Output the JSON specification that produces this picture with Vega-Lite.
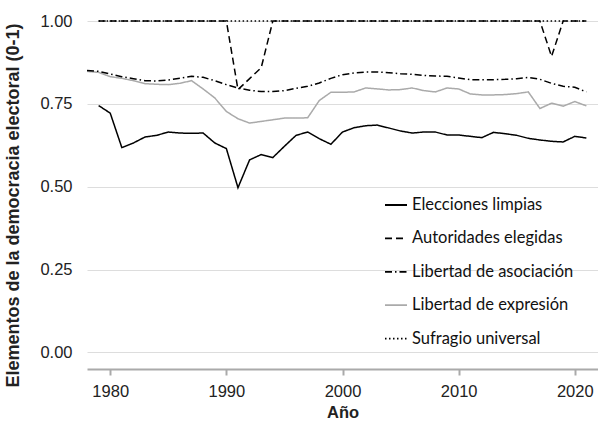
{
  "$schema": "https://vega.github.io/schema/vega-lite/v6.json",
  "width": 511,
  "height": 348,
  "autosize": "none",
  "padding": {"left": 87, "top": 21, "right": 0, "bottom": 58},
  "background": "white",
  "config": {
    "view": {"stroke": null},
    "font": "Liberation Sans"
  },
  "data": {
    "values": [
      {"anio":1979,"serie":"Elecciones limpias","valor":0.745},
      {"anio":1980,"serie":"Elecciones limpias","valor":0.722},
      {"anio":1981,"serie":"Elecciones limpias","valor":0.618},
      {"anio":1982,"serie":"Elecciones limpias","valor":0.632},
      {"anio":1983,"serie":"Elecciones limpias","valor":0.650},
      {"anio":1984,"serie":"Elecciones limpias","valor":0.655},
      {"anio":1985,"serie":"Elecciones limpias","valor":0.665},
      {"anio":1986,"serie":"Elecciones limpias","valor":0.662},
      {"anio":1987,"serie":"Elecciones limpias","valor":0.661},
      {"anio":1988,"serie":"Elecciones limpias","valor":0.662},
      {"anio":1989,"serie":"Elecciones limpias","valor":0.632},
      {"anio":1990,"serie":"Elecciones limpias","valor":0.615},
      {"anio":1991,"serie":"Elecciones limpias","valor":0.497},
      {"anio":1992,"serie":"Elecciones limpias","valor":0.581},
      {"anio":1993,"serie":"Elecciones limpias","valor":0.597},
      {"anio":1994,"serie":"Elecciones limpias","valor":0.588},
      {"anio":1995,"serie":"Elecciones limpias","valor":0.622},
      {"anio":1996,"serie":"Elecciones limpias","valor":0.655},
      {"anio":1997,"serie":"Elecciones limpias","valor":0.665},
      {"anio":1998,"serie":"Elecciones limpias","valor":0.645},
      {"anio":1999,"serie":"Elecciones limpias","valor":0.628},
      {"anio":2000,"serie":"Elecciones limpias","valor":0.665},
      {"anio":2001,"serie":"Elecciones limpias","valor":0.678},
      {"anio":2002,"serie":"Elecciones limpias","valor":0.684},
      {"anio":2003,"serie":"Elecciones limpias","valor":0.686},
      {"anio":2004,"serie":"Elecciones limpias","valor":0.677},
      {"anio":2005,"serie":"Elecciones limpias","valor":0.668},
      {"anio":2006,"serie":"Elecciones limpias","valor":0.662},
      {"anio":2007,"serie":"Elecciones limpias","valor":0.665},
      {"anio":2008,"serie":"Elecciones limpias","valor":0.665},
      {"anio":2009,"serie":"Elecciones limpias","valor":0.656},
      {"anio":2010,"serie":"Elecciones limpias","valor":0.656},
      {"anio":2011,"serie":"Elecciones limpias","valor":0.652},
      {"anio":2012,"serie":"Elecciones limpias","valor":0.648},
      {"anio":2013,"serie":"Elecciones limpias","valor":0.664},
      {"anio":2014,"serie":"Elecciones limpias","valor":0.660},
      {"anio":2015,"serie":"Elecciones limpias","valor":0.655},
      {"anio":2016,"serie":"Elecciones limpias","valor":0.646},
      {"anio":2017,"serie":"Elecciones limpias","valor":0.641},
      {"anio":2018,"serie":"Elecciones limpias","valor":0.637},
      {"anio":2019,"serie":"Elecciones limpias","valor":0.635},
      {"anio":2020,"serie":"Elecciones limpias","valor":0.652},
      {"anio":2021,"serie":"Elecciones limpias","valor":0.647},

      {"anio":1978,"serie":"Libertad de expresión","valor":0.848},
      {"anio":1979,"serie":"Libertad de expresión","valor":0.845},
      {"anio":1980,"serie":"Libertad de expresión","valor":0.832},
      {"anio":1981,"serie":"Libertad de expresión","valor":0.827},
      {"anio":1982,"serie":"Libertad de expresión","valor":0.820},
      {"anio":1983,"serie":"Libertad de expresión","valor":0.811},
      {"anio":1984,"serie":"Libertad de expresión","valor":0.809},
      {"anio":1985,"serie":"Libertad de expresión","valor":0.808},
      {"anio":1986,"serie":"Libertad de expresión","valor":0.812},
      {"anio":1987,"serie":"Libertad de expresión","valor":0.820},
      {"anio":1988,"serie":"Libertad de expresión","valor":0.795},
      {"anio":1989,"serie":"Libertad de expresión","valor":0.768},
      {"anio":1990,"serie":"Libertad de expresión","valor":0.727},
      {"anio":1991,"serie":"Libertad de expresión","valor":0.705},
      {"anio":1992,"serie":"Libertad de expresión","valor":0.692},
      {"anio":1993,"serie":"Libertad de expresión","valor":0.697},
      {"anio":1994,"serie":"Libertad de expresión","valor":0.702},
      {"anio":1995,"serie":"Libertad de expresión","valor":0.707},
      {"anio":1996,"serie":"Libertad de expresión","valor":0.707},
      {"anio":1997,"serie":"Libertad de expresión","valor":0.708},
      {"anio":1998,"serie":"Libertad de expresión","valor":0.760},
      {"anio":1999,"serie":"Libertad de expresión","valor":0.785},
      {"anio":2000,"serie":"Libertad de expresión","valor":0.785},
      {"anio":2001,"serie":"Libertad de expresión","valor":0.786},
      {"anio":2002,"serie":"Libertad de expresión","valor":0.798},
      {"anio":2003,"serie":"Libertad de expresión","valor":0.795},
      {"anio":2004,"serie":"Libertad de expresión","valor":0.792},
      {"anio":2005,"serie":"Libertad de expresión","valor":0.793},
      {"anio":2006,"serie":"Libertad de expresión","valor":0.798},
      {"anio":2007,"serie":"Libertad de expresión","valor":0.790},
      {"anio":2008,"serie":"Libertad de expresión","valor":0.786},
      {"anio":2009,"serie":"Libertad de expresión","valor":0.798},
      {"anio":2010,"serie":"Libertad de expresión","valor":0.795},
      {"anio":2011,"serie":"Libertad de expresión","valor":0.780},
      {"anio":2012,"serie":"Libertad de expresión","valor":0.777},
      {"anio":2013,"serie":"Libertad de expresión","valor":0.777},
      {"anio":2014,"serie":"Libertad de expresión","valor":0.778},
      {"anio":2015,"serie":"Libertad de expresión","valor":0.781},
      {"anio":2016,"serie":"Libertad de expresión","valor":0.786},
      {"anio":2017,"serie":"Libertad de expresión","valor":0.736},
      {"anio":2018,"serie":"Libertad de expresión","valor":0.752},
      {"anio":2019,"serie":"Libertad de expresión","valor":0.743},
      {"anio":2020,"serie":"Libertad de expresión","valor":0.757},
      {"anio":2021,"serie":"Libertad de expresión","valor":0.744},

      {"anio":1978,"serie":"Libertad de asociación","valor":0.851},
      {"anio":1979,"serie":"Libertad de asociación","valor":0.848},
      {"anio":1980,"serie":"Libertad de asociación","valor":0.840},
      {"anio":1981,"serie":"Libertad de asociación","valor":0.832},
      {"anio":1982,"serie":"Libertad de asociación","valor":0.826},
      {"anio":1983,"serie":"Libertad de asociación","valor":0.820},
      {"anio":1984,"serie":"Libertad de asociación","valor":0.819},
      {"anio":1985,"serie":"Libertad de asociación","valor":0.822},
      {"anio":1986,"serie":"Libertad de asociación","valor":0.827},
      {"anio":1987,"serie":"Libertad de asociación","valor":0.833},
      {"anio":1988,"serie":"Libertad de asociación","valor":0.830},
      {"anio":1989,"serie":"Libertad de asociación","valor":0.820},
      {"anio":1990,"serie":"Libertad de asociación","valor":0.808},
      {"anio":1991,"serie":"Libertad de asociación","valor":0.798},
      {"anio":1992,"serie":"Libertad de asociación","valor":0.791},
      {"anio":1993,"serie":"Libertad de asociación","valor":0.787},
      {"anio":1994,"serie":"Libertad de asociación","valor":0.787},
      {"anio":1995,"serie":"Libertad de asociación","valor":0.790},
      {"anio":1996,"serie":"Libertad de asociación","valor":0.797},
      {"anio":1997,"serie":"Libertad de asociación","valor":0.803},
      {"anio":1998,"serie":"Libertad de asociación","valor":0.813},
      {"anio":1999,"serie":"Libertad de asociación","valor":0.827},
      {"anio":2000,"serie":"Libertad de asociación","valor":0.838},
      {"anio":2001,"serie":"Libertad de asociación","valor":0.843},
      {"anio":2002,"serie":"Libertad de asociación","valor":0.846},
      {"anio":2003,"serie":"Libertad de asociación","valor":0.846},
      {"anio":2004,"serie":"Libertad de asociación","valor":0.844},
      {"anio":2005,"serie":"Libertad de asociación","valor":0.841},
      {"anio":2006,"serie":"Libertad de asociación","valor":0.839},
      {"anio":2007,"serie":"Libertad de asociación","valor":0.836},
      {"anio":2008,"serie":"Libertad de asociación","valor":0.834},
      {"anio":2009,"serie":"Libertad de asociación","valor":0.833},
      {"anio":2010,"serie":"Libertad de asociación","valor":0.828},
      {"anio":2011,"serie":"Libertad de asociación","valor":0.823},
      {"anio":2012,"serie":"Libertad de asociación","valor":0.823},
      {"anio":2013,"serie":"Libertad de asociación","valor":0.823},
      {"anio":2014,"serie":"Libertad de asociación","valor":0.824},
      {"anio":2015,"serie":"Libertad de asociación","valor":0.826},
      {"anio":2016,"serie":"Libertad de asociación","valor":0.830},
      {"anio":2017,"serie":"Libertad de asociación","valor":0.824},
      {"anio":2018,"serie":"Libertad de asociación","valor":0.812},
      {"anio":2019,"serie":"Libertad de asociación","valor":0.803},
      {"anio":2020,"serie":"Libertad de asociación","valor":0.800},
      {"anio":2021,"serie":"Libertad de asociación","valor":0.786},

      {"anio":1979,"serie":"Autoridades elegidas","valor":1},
      {"anio":1980,"serie":"Autoridades elegidas","valor":1},
      {"anio":1981,"serie":"Autoridades elegidas","valor":1},
      {"anio":1982,"serie":"Autoridades elegidas","valor":1},
      {"anio":1983,"serie":"Autoridades elegidas","valor":1},
      {"anio":1984,"serie":"Autoridades elegidas","valor":1},
      {"anio":1985,"serie":"Autoridades elegidas","valor":1},
      {"anio":1986,"serie":"Autoridades elegidas","valor":1},
      {"anio":1987,"serie":"Autoridades elegidas","valor":1},
      {"anio":1988,"serie":"Autoridades elegidas","valor":1},
      {"anio":1989,"serie":"Autoridades elegidas","valor":1},
      {"anio":1990,"serie":"Autoridades elegidas","valor":1},
      {"anio":1991,"serie":"Autoridades elegidas","valor":0.793},
      {"anio":1992,"serie":"Autoridades elegidas","valor":0.826},
      {"anio":1993,"serie":"Autoridades elegidas","valor":0.859},
      {"anio":1994,"serie":"Autoridades elegidas","valor":1},
      {"anio":1995,"serie":"Autoridades elegidas","valor":1},
      {"anio":1996,"serie":"Autoridades elegidas","valor":1},
      {"anio":1997,"serie":"Autoridades elegidas","valor":1},
      {"anio":1998,"serie":"Autoridades elegidas","valor":1},
      {"anio":1999,"serie":"Autoridades elegidas","valor":1},
      {"anio":2000,"serie":"Autoridades elegidas","valor":1},
      {"anio":2001,"serie":"Autoridades elegidas","valor":1},
      {"anio":2002,"serie":"Autoridades elegidas","valor":1},
      {"anio":2003,"serie":"Autoridades elegidas","valor":1},
      {"anio":2004,"serie":"Autoridades elegidas","valor":1},
      {"anio":2005,"serie":"Autoridades elegidas","valor":1},
      {"anio":2006,"serie":"Autoridades elegidas","valor":1},
      {"anio":2007,"serie":"Autoridades elegidas","valor":1},
      {"anio":2008,"serie":"Autoridades elegidas","valor":1},
      {"anio":2009,"serie":"Autoridades elegidas","valor":1},
      {"anio":2010,"serie":"Autoridades elegidas","valor":1},
      {"anio":2011,"serie":"Autoridades elegidas","valor":1},
      {"anio":2012,"serie":"Autoridades elegidas","valor":1},
      {"anio":2013,"serie":"Autoridades elegidas","valor":1},
      {"anio":2014,"serie":"Autoridades elegidas","valor":1},
      {"anio":2015,"serie":"Autoridades elegidas","valor":1},
      {"anio":2016,"serie":"Autoridades elegidas","valor":1},
      {"anio":2017,"serie":"Autoridades elegidas","valor":1},
      {"anio":2018,"serie":"Autoridades elegidas","valor":0.893},
      {"anio":2019,"serie":"Autoridades elegidas","valor":1},
      {"anio":2020,"serie":"Autoridades elegidas","valor":1},
      {"anio":2021,"serie":"Autoridades elegidas","valor":1},

      {"anio":1979,"serie":"Sufragio universal","valor":1},
      {"anio":1985,"serie":"Sufragio universal","valor":1},
      {"anio":1990,"serie":"Sufragio universal","valor":1},
      {"anio":1995,"serie":"Sufragio universal","valor":1},
      {"anio":2000,"serie":"Sufragio universal","valor":1},
      {"anio":2005,"serie":"Sufragio universal","valor":1},
      {"anio":2010,"serie":"Sufragio universal","valor":1},
      {"anio":2015,"serie":"Sufragio universal","valor":1},
      {"anio":2021,"serie":"Sufragio universal","valor":1}
    ]
  },
  "mark": {"type": "line", "strokeWidth": 1.5},
  "encoding": {
    "x": {
      "field": "anio",
      "type": "quantitative",
      "scale": {"domain": [1978, 2022], "nice": false, "zero": false},
      "axis": {
        "title": "Año",
        "values": [1980, 1990, 2000, 2010, 2020],
        "format": "d",
        "grid": false,
        "domainColor": "#aaaaaa",
        "domainWidth": 2,
        "tickColor": "#aaaaaa",
        "tickWidth": 2,
        "tickSize": 6,
        "labelFont": "Liberation Sans",
        "labelFontSize": 16.5,
        "labelColor": "#222222",
        "labelPadding": 8,
        "titleFont": "Liberation Sans",
        "titleFontSize": 16.5,
        "titleFontWeight": "bold",
        "titleColor": "#222222",
        "titlePadding": 5
      }
    },
    "y": {
      "field": "valor",
      "type": "quantitative",
      "scale": {"domain": [-0.05, 1], "nice": false, "zero": false},
      "axis": {
        "title": "Elementos de la democracia electoral (0-1)",
        "values": [0, 0.25, 0.5, 0.75, 1],
        "format": ".2f",
        "grid": true,
        "gridColor": "#dddddd",
        "gridWidth": 1,
        "domain": false,
        "ticks": false,
        "labelFont": "Liberation Sans",
        "labelFontSize": 16.5,
        "labelColor": "#222222",
        "labelPadding": 15,
        "titleFont": "Liberation Sans",
        "titleFontSize": 18,
        "titleFontWeight": "bold",
        "titleColor": "#222222",
        "titleX": -65,
        "titleY": 184
      }
    },
    "color": {
      "field": "serie",
      "type": "nominal",
      "scale": {
        "domain": ["Elecciones limpias", "Autoridades elegidas", "Libertad de asociación", "Libertad de expresión", "Sufragio universal"],
        "range": ["#000000", "#000000", "#000000", "#aaaaaa", "#000000"]
      },
      "legend": {
        "title": null,
        "orient": "none",
        "legendX": 297,
        "legendY": 172,
        "symbolType": "stroke",
        "symbolSize": 484,
        "symbolStrokeWidth": 1.8,
        "labelFont": "Lato",
        "labelFontSize": 16.5,
        "labelColor": "#111111",
        "labelOffset": 4,
        "labelLimit": 300,
        "rowPadding": 12.4
      }
    },
    "strokeDash": {
      "field": "serie",
      "type": "nominal",
      "scale": {
        "domain": ["Elecciones limpias", "Autoridades elegidas", "Libertad de asociación", "Libertad de expresión", "Sufragio universal"],
        "range": [[1, 0], [7, 4], [7, 3, 1.5, 3], [1, 0], [1.5, 2.5]]
      },
      "legend": {
        "title": null,
        "orient": "none",
        "legendX": 297,
        "legendY": 172,
        "symbolType": "stroke",
        "symbolSize": 484,
        "symbolStrokeWidth": 1.8,
        "labelFont": "Lato",
        "labelFontSize": 16.5,
        "labelColor": "#111111",
        "labelOffset": 4,
        "labelLimit": 300,
        "rowPadding": 12.4
      }
    }
  }
}
